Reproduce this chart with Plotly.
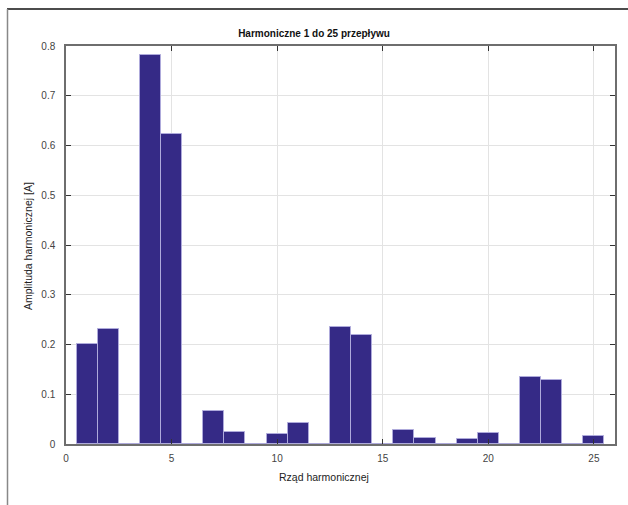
import plotly.graph_objects as go

harmonic_order = list(range(1, 26))
amplitude = [0.201, 0.231, 0.0, 0.781, 0.623, 0.0, 0.0657, 0.025, 0.0, 0.0195,
             0.0416, 0.0, 0.236, 0.219, 0.0, 0.0276, 0.0115, 0.0, 0.0102, 0.0223,
             0.0, 0.1347, 0.128, 0.0, 0.0169]
x_ticks = [0, 5, 10, 15, 20, 25]
y_ticks = [0, 0.1, 0.2, 0.3, 0.4, 0.5, 0.6, 0.7, 0.8]

title_text = "Harmoniczne 1 do 25 przepływu"
x_label = "Rząd harmonicznej"
y_label = "Amplituda harmonicznej [A]"

W, H = 628, 505
L, R, T, B = 66, 13, 46, 61
pw, ph = W - L - R, H - T - B

def px_x(px):
    return (px - L) / pw

def px_y(py):
    return (H - B - py) / ph

font = "Liberation Sans, Arial, sans-serif"

fig = go.Figure()
fig.add_trace(go.Bar(
    x=harmonic_order, y=amplitude, width=1.0,
    marker=dict(color="#352a86", line=dict(color="#aeaadb", width=1)),
    hoverinfo="x+y",
))

fig.update_layout(
    width=W, height=H,
    margin=dict(l=L, r=R, t=T, b=B),
    paper_bgcolor="white", plot_bgcolor="white",
    showlegend=False,
    bargap=0,
    font=dict(family=font, size=10, color="#333333"),
    title=dict(text="<b>" + title_text + "</b>", x=0.5, xref="container",
               y=1 - 33 / H, yref="container", yanchor="middle", xanchor="center",
               font=dict(family=font, size=10, color="#111111")),
)
fig.update_xaxes(
    range=[0, 26], tickvals=x_ticks, ticktext=[str(v) for v in x_ticks],
    showgrid=True, gridcolor="#e3e3e3", gridwidth=1,
    showline=True, linecolor="#6e6e6e", linewidth=1.5, mirror="ticks",
    ticks="inside", ticklen=5, tickcolor="#333333",
    zeroline=False, ticklabelstandoff=4,
    tickfont=dict(size=10, color="#444444"),
)
fig.update_yaxes(
    range=[0, 0.8], tickvals=y_ticks, ticktext=["0"] + [f"{v:.1f}" for v in y_ticks[1:]],
    showgrid=True, gridcolor="#e3e3e3", gridwidth=1,
    showline=True, linecolor="#6e6e6e", linewidth=1.5, mirror="ticks",
    ticks="inside", ticklen=5, tickcolor="#333333",
    zeroline=False, ticklabelstandoff=7,
    tickfont=dict(size=10, color="#444444"),
)

fig.add_annotation(text=x_label, xref="paper", yref="paper",
                   x=px_x(324), y=px_y(477), showarrow=False,
                   xanchor="center", yanchor="middle",
                   font=dict(family=font, size=10.5, color="#222222"))
fig.add_annotation(text=y_label, xref="paper", yref="paper",
                   x=px_x(28), y=px_y(246), showarrow=False, textangle=-90,
                   xanchor="center", yanchor="middle",
                   font=dict(family=font, size=10.5, color="#222222"))

# window frame lines
fig.add_shape(type="line", xref="paper", yref="paper",
              x0=px_x(7), x1=px_x(628), y0=px_y(9), y1=px_y(9),
              line=dict(color="#111111", width=1.5))
fig.add_shape(type="line", xref="paper", yref="paper",
              x0=px_x(7.5), x1=px_x(7.5), y0=px_y(9), y1=px_y(505),
              line=dict(color="#888888", width=1.5))

fig.write_html("out.html", config={"displayModeBar": False},
               post_script="document.body.style.margin='0';document.body.style.overflow='hidden';")
